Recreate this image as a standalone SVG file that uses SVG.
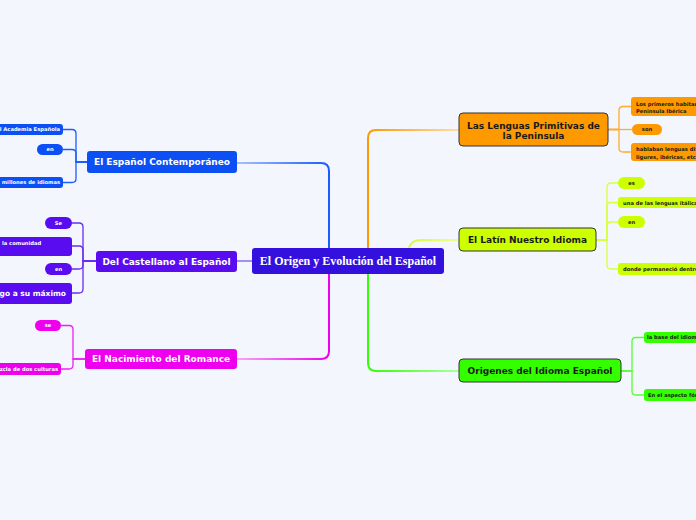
<svg xmlns="http://www.w3.org/2000/svg" width="696" height="520" viewBox="0 0 696 520">
<defs>
<linearGradient id="gBlue" gradientUnits="userSpaceOnUse" x1="329" y1="0" x2="237" y2="0"><stop offset="0" stop-color="#1a5cff"/><stop offset="1" stop-color="#a8bfff"/></linearGradient>
<linearGradient id="gMag" gradientUnits="userSpaceOnUse" x1="329" y1="0" x2="237" y2="0"><stop offset="0" stop-color="#ee00ee"/><stop offset="1" stop-color="#f6a6f6"/></linearGradient>
<linearGradient id="gOr" gradientUnits="userSpaceOnUse" x1="368" y1="0" x2="459" y2="0"><stop offset="0" stop-color="#ff9900"/><stop offset="1" stop-color="#ffdcaa"/></linearGradient>
<linearGradient id="gGr" gradientUnits="userSpaceOnUse" x1="368" y1="0" x2="459" y2="0"><stop offset="0" stop-color="#33ff00"/><stop offset="1" stop-color="#adffa0"/></linearGradient>
<linearGradient id="gYe" gradientUnits="userSpaceOnUse" x1="409" y1="0" x2="459" y2="0"><stop offset="0" stop-color="#d4ff33"/><stop offset="1" stop-color="#ebff99"/></linearGradient>
</defs>
<style>
.main{fill:none;stroke-width:2}
.sub{fill:none;stroke-width:1.3}
.t9{font-family:"DejaVu Sans",sans-serif;font-weight:bold;font-size:9px}
.ts{font-family:"DejaVu Sans",sans-serif;font-weight:bold;font-size:5.2px}
.w{fill:#ffffff}
.k{fill:#1a1a1a}
.c{text-anchor:middle}
.e{text-anchor:end}
.dk{stroke:#333333;stroke-width:1}
</style>
<rect x="0" y="0" width="696" height="520" fill="#f3f6fd"/>
<g id="connectors">
<path class="main" stroke="url(#gBlue)" d="M329,248 V171 Q329,163 321,163 H237"/>
<path class="main" stroke="#a78cf2" d="M252,261 H237"/>
<path class="main" stroke="url(#gMag)" d="M329,274 V351 Q329,359 321,359 H237"/>
<path class="main" stroke="url(#gOr)" d="M368,248 V138 Q368,130 376,130 H459"/>
<path class="main" stroke="url(#gYe)" d="M409,248 Q411,240 421,240 H459"/>
<path class="main" stroke="url(#gGr)" d="M368,274 V363 Q368,371 376,371 H459"/>
<g stroke="#1a5cff">
<path class="sub" d="M87,162 H76 V133.5 Q76,129.5 72,129.5 H63"/>
<path class="sub" d="M87,162 H76 V153.5 Q76,149.5 72,149.5 H63"/>
<path class="sub" d="M87,162 H76 V178.5 Q76,182.5 72,182.5 H63"/>
</g>
<g stroke="#6a2cf2">
<path class="sub" d="M96,261 H83 V227 Q83,223 79,223 H72"/>
<path class="sub" d="M96,261 H83 V250 Q83,246 79,246 H72"/>
<path class="sub" d="M96,261 H83 V265 Q83,269 79,269 H72"/>
<path class="sub" d="M96,261 H83 V289 Q83,293 79,293 H72"/>
</g>
<g stroke="#ee22ee">
<path class="sub" d="M85,359 H73 V329.5 Q73,325.5 69,325.5 H61"/>
<path class="sub" d="M85,359 H73 V365 Q73,369 69,369 H61"/>
</g>
<g stroke="#ffab33">
<path class="sub" d="M608,129.5 H619 V110.5 Q619,106.5 623,106.5 H631"/>
<path class="sub" d="M608,129.5 H632"/>
<path class="sub" d="M608,129.5 H619 V148 Q619,152 623,152 H631"/>
</g>
<g stroke="#d8ff40">
<path class="sub" d="M596,240 H607 V187 Q607,183 611,183 H618"/>
<path class="sub" d="M596,240 H607 V206.5 Q607,202.5 611,202.5 H618"/>
<path class="sub" d="M596,240 H607 V226 Q607,222 611,222 H618"/>
<path class="sub" d="M596,240 H607 V265 Q607,269 611,269 H618"/>
</g>
<g stroke="#55ff33">
<path class="sub" d="M621,371 H632 V341.5 Q632,337.5 636,337.5 H644"/>
<path class="sub" d="M621,371 H632 V391 Q632,395 636,395 H644"/>
</g>
</g>
<g id="center">
<rect x="252" y="248" width="192" height="26" rx="3" fill="#3310dd"/>
<text x="348" y="265" class="w c" font-family="'Liberation Serif',serif" font-weight="bold" font-size="12">El Origen y Evolución del Español</text>
</g>
<g id="n-contemporaneo">
<rect x="87" y="151" width="150" height="22" rx="3" fill="#0b4ff5"/>
<text x="162" y="165.3" class="t9 w c">El Español Contemporáneo</text>
</g>
<g id="n-academia"><rect x="-5" y="124" width="68" height="11" rx="3" fill="#0b4ff5"/><text x="60" y="131.4" class="ts w e">l Academia Española</text></g>
<g id="n-en1"><rect x="37" y="144" width="26" height="11" rx="5.5" fill="#0b4ff5"/><text x="50" y="151.4" class="ts w c">en</text></g>
<g id="n-millones"><rect x="-5" y="177" width="68" height="11" rx="3" fill="#0b4ff5"/><text x="60" y="184.4" class="ts w e">millones de idiomas</text></g>
<g id="n-castellano">
<rect x="96" y="251" width="141" height="21" rx="3" fill="#5a0cf0"/>
<text x="166.5" y="264.8" class="t9 w c">Del Castellano al Español</text>
</g>
<g id="n-se1"><rect x="45" y="217" width="27" height="12" rx="6" fill="#5a0cf0"/><text x="58.5" y="225" class="ts w c">Se</text></g>
<g id="n-comunidad"><rect x="-5" y="237" width="77" height="19" rx="3" fill="#5a0cf0"/><text x="2" y="245" class="ts w">la comunidad</text></g>
<g id="n-en2"><rect x="45" y="263" width="27" height="12" rx="6" fill="#5a0cf0"/><text x="58.5" y="271" class="ts w c">en</text></g>
<g id="n-maximo"><rect x="-5" y="283" width="77" height="21" rx="3" fill="#5a0cf0"/><text x="66" y="296" class="w e" font-family="'DejaVu Sans',sans-serif" font-weight="bold" font-size="7.5">ego a su máximo</text></g>
<g id="n-romance">
<rect x="85" y="349" width="152" height="20" rx="3" fill="#ee00ee"/>
<text x="161" y="362.3" class="t9 w c">El Nacimiento del Romance</text>
</g>
<g id="n-se2"><rect x="35" y="320" width="26" height="11" rx="5.5" fill="#ee00ee"/><text x="48" y="327.4" class="ts w c">se</text></g>
<g id="n-mezcla"><rect x="-5" y="363" width="66" height="12" rx="3" fill="#ee00ee"/><text x="58" y="371" class="ts w e">zcla de dos culturas</text></g>
<g id="n-primitivas">
<rect x="459" y="113" width="149" height="33" rx="4" fill="#ff9900" class="dk"/>
<text x="533.5" y="128.6" class="t9 k c">Las Lenguas Primitivas de</text>
<text x="533.5" y="138.6" class="t9 k c">la Peninsula</text>
</g>
<g id="n-habitantes"><rect x="631" y="97" width="80" height="19" rx="3" fill="#ff9900"/><text x="636" y="106" class="ts k">Los primeros habitan</text><text x="636" y="113" class="ts k">Peninsula Ibérica</text></g>
<g id="n-son"><rect x="632" y="124" width="30" height="11" rx="5.5" fill="#ff9900"/><text x="647" y="131.4" class="ts k c">son</text></g>
<g id="n-hablaban"><rect x="631" y="143" width="80" height="18" rx="3" fill="#ff9900"/><text x="636" y="150.5" class="ts k">hablaban lenguas div</text><text x="636" y="159" class="ts k">ligures, ibéricas, etc.)</text></g>
<g id="n-latin">
<rect x="459" y="228" width="137" height="23" rx="4" fill="#ccff00" class="dk"/>
<text x="527.5" y="242.8" class="t9 k c">El Latín Nuestro Idioma</text>
</g>
<g id="n-es"><rect x="618" y="177" width="27" height="12" rx="6" fill="#ccff00"/><text x="631.5" y="185" class="ts k c">es</text></g>
<g id="n-italicas"><rect x="618" y="197" width="90" height="11" rx="3" fill="#ccff00"/><text x="623" y="204.5" class="ts k">una de las lenguas itálicas</text></g>
<g id="n-en3"><rect x="618" y="216" width="27" height="12" rx="6" fill="#ccff00"/><text x="631.5" y="224" class="ts k c">en</text></g>
<g id="n-donde"><rect x="618" y="263" width="90" height="12" rx="3" fill="#ccff00"/><text x="623" y="271" class="ts k">donde permaneció dentro</text></g>
<g id="n-origenes">
<rect x="459" y="359" width="162" height="23" rx="4" fill="#33ff00" class="dk"/>
<text x="540" y="373.8" class="t9 k c">Origenes del Idioma Español</text>
</g>
<g id="n-base"><rect x="644" y="332" width="60" height="11" rx="3" fill="#33ff00"/><text x="647" y="339.4" class="ts k">la base del idiom</text></g>
<g id="n-aspecto"><rect x="644" y="389" width="60" height="12" rx="3" fill="#33ff00"/><text x="648" y="397" class="ts k">En el aspecto fón</text></g>
</svg>
